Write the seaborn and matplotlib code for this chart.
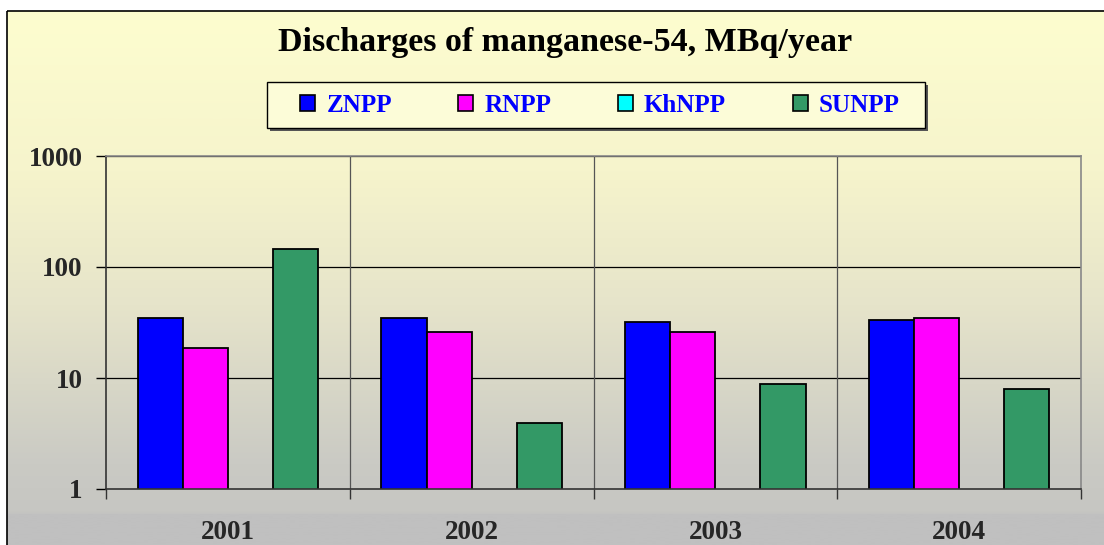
import numpy as np
import pandas as pd
import matplotlib
matplotlib.use("Agg")
import matplotlib.pyplot as plt
from matplotlib.patches import Patch, Rectangle
from matplotlib.colors import LinearSegmentedColormap
import seaborn as sns

# ---- data ----
years = ["2001", "2002", "2003", "2004"]
stations = ["ZNPP", "RNPP", "KhNPP", "SUNPP"]
znpp = [35, 35, 32, 33]
rnpp = [18.6, 26, 26, 35]
khnpp = [None, None, None, None]
sunpp = [145, 3.9, 8.8, 7.9]
colors = ["#0000FF", "#FF00FF", "#00FFFF", "#339966"]
title = "Discharges of manganese-54, MBq/year"
yticks = [1, 10, 100, 1000]
ytick_labels = ["1", "10", "100", "1000"]

rows = []
for st, vals in zip(stations, [znpp, rnpp, khnpp, sunpp]):
    for y, v in zip(years, vals):
        if v is not None:
            rows.append({"year": y, "station": st, "value": v})
df = pd.DataFrame(rows)

sns.set_theme(style="white")
plt.rcParams["font.family"] = ["Liberation Serif", "DejaVu Serif"]

W, H = 1104, 545
fig = plt.figure(figsize=(W / 100, H / 100), dpi=100)
fig.patch.set_facecolor("white")

# ---- background gradient (chart area) ----
bg = fig.add_axes([0, 0, 1, 1], zorder=-10)
bg.set_xlim(0, W)
bg.set_ylim(H, 0)
bg.axis("off")
cmap = LinearSegmentedColormap.from_list(
    "g", [(0.0, "#FDFDCF"), (0.30, "#F6F4CC"), (0.55, "#E6E4CA"),
          (0.85, "#CACAC4"), (0.94, "#C6C6C2"), (0.945, "#C0C0C0"), (1.0, "#C0C0C0")])
grad = np.linspace(0, 1, 1024).reshape(-1, 1)
bg.imshow(grad, cmap=cmap, aspect="auto", extent=(7, W + 5, H, 11), zorder=0)
bg.add_patch(Rectangle((7, 11), W + 10, H + 10, fill=False, edgecolor="black", lw=1.2, zorder=1))

# legend box with shadow (drawn on background layer)
lx0, lx1, ly0, ly1 = 267, 925, 82, 128
bg.add_patch(Rectangle((lx0 + 3, ly0 + 3), lx1 - lx0, ly1 - ly0, facecolor="#555555",
                       edgecolor="none", zorder=2))
bg.add_patch(Rectangle((lx0, ly0), lx1 - lx0, ly1 - ly0, facecolor="#FCFCD8",
                       edgecolor="black", lw=1.0, zorder=3))

# ---- main axes ----
x0, x1, ytop, ybot = 106, 1081, 156, 489
ax = fig.add_axes([x0 / W, 1 - ybot / H, (x1 - x0) / W, (ybot - ytop) / H])
ax.set_facecolor("none")
sns.barplot(data=df, x="year", y="value", hue="station", hue_order=stations,
            order=years, palette=colors, width=0.74, edgecolor="black",
            linewidth=1.3, saturation=1, ax=ax, zorder=3)
ax.set_yscale("log")
ax.set_ylim(1, 1000)
ax.set_xlim(-0.5, 3.5)
ax.set_yticks(yticks)
ax.set_yticklabels(ytick_labels)
ax.yaxis.set_minor_locator(matplotlib.ticker.NullLocator())
ax.set_xlabel("")
ax.set_ylabel("")
if ax.get_legend() is not None:
    ax.get_legend().remove()

for t in ax.get_yticklabels():
    t.set_fontweight("bold")
    t.set_fontsize(19.5)
for t in ax.get_xticklabels():
    t.set_fontweight("bold")
    t.set_fontsize(19.5)

ax.tick_params(axis="y", which="major", direction="out", length=7, width=1,
               color="black", pad=10, left=True)
ax.tick_params(axis="x", which="major", length=0, pad=22, bottom=True)
ax.set_xticks([-0.5, 0.5, 1.5, 2.5, 3.5], minor=True)
ax.tick_params(axis="x", which="minor", direction="out", length=7, width=1,
               color="#333333", bottom=True)

ax.grid(False)
for yv in [10, 100, 1000]:
    ax.axhline(yv, color="black", lw=0.9, zorder=1)
for xv in [0.5, 1.5, 2.5]:
    ax.axvline(xv, color="#555555", lw=0.9, zorder=1)

for s in ["left", "bottom"]:
    ax.spines[s].set_color("#333333")
    ax.spines[s].set_linewidth(1.2)
for s in ["top", "right"]:
    ax.spines[s].set_color("#888888")
    ax.spines[s].set_linewidth(1.2)
ax.spines["bottom"].set_zorder(5)

# ---- title ----
fig.text(565 / W, 1 - 42 / H, title, ha="center", va="center",
         fontsize=24.5, fontweight="bold", color="black")

# ---- legend ----
handles = [Patch(facecolor=c, edgecolor="black", linewidth=1.2) for c in colors]
leg = fig.legend(handles, stations, loc="center", ncol=4,
                 bbox_to_anchor=(600 / W, 1 - 105 / H),
                 frameon=False,
                 handlelength=0.6, handleheight=0.6, handletextpad=0.45,
                 columnspacing=2.65, borderpad=0, borderaxespad=0,
                 prop={"family": ["Liberation Serif"], "weight": "bold", "size": 18})
for t in leg.get_texts():
    t.set_color("#0000FF")

fig.savefig("out.png", dpi=100)
